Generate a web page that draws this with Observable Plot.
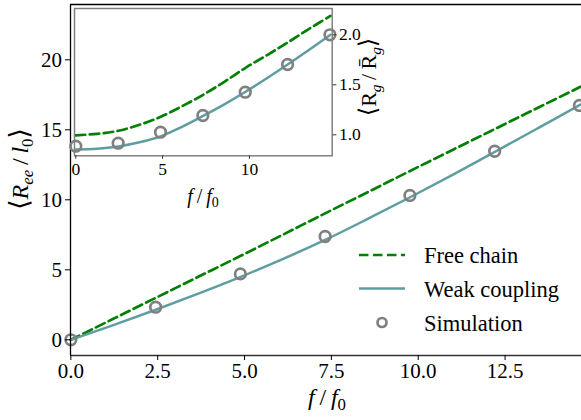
<!DOCTYPE html>
<html>
<head>
<meta charset="utf-8">
<script src="https://cdn.jsdelivr.net/npm/d3@7"></script>
<script src="https://cdn.jsdelivr.net/npm/@observablehq/plot@0.6"></script>
<style>
  html, body { margin: 0; padding: 0; background: white; overflow: hidden; }
  #wrap { position: relative; width: 581px; height: 420px; }
  #wrap svg text { font-family: 'Liberation Serif', 'DejaVu Serif', serif; }
</style>
</head>
<body>
<div id="wrap"></div>
<script>
// ---- data ----
const curveX   = [0, 1.2225, 2.445, 3.6675, 4.89, 6.1125, 7.335, 8.5575, 9.78, 11.0025, 12.225, 13.4475, 14.67];
const freeMain = [0, 1.5, 3.0, 4.5, 6.0, 7.52, 9.05, 10.56, 12.08, 13.58, 15.08, 16.58, 18.07];
const weakMain = [0, 1.05, 2.15, 3.3, 4.5, 5.78, 7.15, 8.65, 10.2, 11.8, 13.45, 15.12, 16.8];
const simX     = [0, 2.44, 4.88, 7.32, 9.76, 12.2, 14.64];
const simMain  = [0, 2.33, 4.71, 7.38, 10.31, 13.47, 16.74];
const freeIn   = [0.995, 1.01, 1.04, 1.1, 1.18, 1.285, 1.40, 1.53, 1.67, 1.795, 1.925, 2.06, 2.19];
const weakIn   = [0.853, 0.86, 0.883, 0.925, 0.985, 1.08, 1.19, 1.305, 1.43, 1.565, 1.705, 1.85, 2.0];
const simIn    = [0.886, 0.916, 1.026, 1.193, 1.426, 1.703, 2.0];
const mainXTicks = [0, 2.5, 5, 7.5, 10, 12.5];
const mainYTicks = [0, 5, 10, 15, 20];
const inXTicks = [0, 5, 10];
const inYTicks = [1.0, 1.5, 2.0];
const legendLabels = ["Free chain", "Weak coupling", "Simulation"];

const GREEN = "#008000", BLUE = "#5f9ea0", GRAY = "#808080";
const FONT = "'Liberation Serif', 'DejaVu Serif', serif";

const freeMainData = curveX.map((x, i) => ({x, y: freeMain[i]}));
const weakMainData = curveX.map((x, i) => ({x, y: weakMain[i]}));
const simMainData  = simX.map((x, i) => ({x, y: simMain[i]}));
const freeInData   = curveX.map((x, i) => ({x, y: freeIn[i]}));
const weakInData   = curveX.map((x, i) => ({x, y: weakIn[i]}));
const simInData    = simX.map((x, i) => ({x, y: simIn[i]}));

const mainXDomain = [-0.01, 14.70];
const mainYDomain = [-1.12, 23.95];

const main = Plot.plot({
  width: 581, height: 420,
  marginLeft: 70, marginRight: 0, marginTop: 4, marginBottom: 65,
  x: {domain: mainXDomain},
  y: {domain: mainYDomain},
  style: "font-family: 'Liberation Serif', serif; font-size: 21px; background: white; color: black;",
  marks: [
    Plot.line(freeMainData, {x: "x", y: "y", stroke: GREEN, strokeWidth: 2.7, strokeDasharray: "9.5,4.5", curve: "catmull-rom"}),
    Plot.line(weakMainData, {x: "x", y: "y", stroke: BLUE, strokeWidth: 2.5, curve: "catmull-rom"}),
    Plot.dot(simMainData, {x: "x", y: "y", r: 5.3, stroke: GRAY, strokeWidth: 2.7, fill: "none"}),
    Plot.ruleX([mainXDomain[0]], {stroke: "black", strokeWidth: 1.3}),
    Plot.ruleY([mainYDomain[0]], {stroke: "#333", strokeWidth: 1.3}),
    Plot.ruleY([mainYDomain[1]], {stroke: "black", strokeWidth: 1.3}),
    Plot.axisX({ticks: mainXTicks, tickFormat: d3.format(".1f"), tickSize: 5, tickPadding: 2.5, label: null, fontSize: 21, fontFamily: FONT}),
    Plot.axisY({ticks: mainYTicks, tickFormat: d3.format("d"), tickSize: 5, tickPadding: 3.5, label: null, fontSize: 21, fontFamily: FONT})
  ]
});

const inXDomain = [-0.075, 14.77];
const inYDomain = [0.79, 2.263];
const inset = Plot.plot({
  width: 400, height: 230,
  marginLeft: 74, marginRight: 68.3, marginTop: 8, marginBottom: 74.7,
  x: {domain: inXDomain},
  y: {domain: inYDomain},
  style: "font-family: 'Liberation Serif', serif; font-size: 17.5px; background: transparent; color: black; position: absolute; left: 0px; top: 0px;",
  marks: [
    Plot.frame({fill: "white", stroke: "none"}),
    Plot.line(freeInData, {x: "x", y: "y", stroke: GREEN, strokeWidth: 2.7, strokeDasharray: "9.5,4.5", curve: "catmull-rom"}),
    Plot.line(weakInData, {x: "x", y: "y", stroke: BLUE, strokeWidth: 2.5, curve: "catmull-rom"}),
    Plot.frame({stroke: GRAY, strokeWidth: 1.5, fill: "none"}),
    Plot.dot(simInData, {x: "x", y: "y", r: 5.3, stroke: GRAY, strokeWidth: 2.7, fill: "none"}),
    Plot.axisX({ticks: inXTicks, tickFormat: d3.format("d"), tickSize: 3.5, tickPadding: 3.5, label: null, fontSize: 17.5, fontFamily: FONT, stroke: "#333"}),
    Plot.axisY({anchor: "right", ticks: inYTicks, tickFormat: d3.format(".1f"), tickSize: 3.7, tickPadding: 3, label: null, fontSize: 17.5, fontFamily: FONT, stroke: "#333"})
  ]
});
inset.style.position = "absolute";
inset.style.left = "0px";
inset.style.top = "0px";
inset.style.background = "transparent";

const wrap = document.getElementById("wrap");
wrap.appendChild(main);
wrap.appendChild(inset);

// math-like label helper; each part: [text, {it, sub, big}]
function mathLabel(svg, x, y, rotate, size, parts) {
  const t = d3.select(svg).append("text")
    .attr("transform", `translate(${x},${y})` + (rotate ? ` rotate(${rotate})` : ""))
    .attr("text-anchor", "middle")
    .attr("font-family", FONT)
    .attr("font-size", size)
    .attr("fill", "black");
  let shifted = 0;
  for (const [txt, o] of parts) {
    const sp = t.append("tspan").text(txt);
    let target = 0;
    if (o.sub) { sp.attr("font-size", size * 0.7); target = size * 0.22; }
    if (o.it) sp.attr("font-style", "italic");
    if (o.big) sp.attr("font-size", size * 1.1).style("font-family", "'DejaVu Serif', serif").attr("font-weight", 300);
    if (target !== shifted) { sp.attr("dy", target - shifted); shifted = target; }
  }
  return t;
}

const sl = "\u2009/\u2009";
mathLabel(main, 327, 405, 0, 24, [["f", {it: 1}], [sl, {}], ["f", {it: 1}], ["0", {sub: 1}]]);
mathLabel(main, 28, 169, -90, 24, [["\u27E8", {big: 1}], ["R", {it: 1}], ["ee", {it: 1, sub: 1}], [sl, {}], ["l", {it: 1}], ["0", {sub: 1}], ["\u27E9", {big: 1}]]);
mathLabel(inset, 203, 203, 0, 20, [["f", {it: 1}], [sl, {}], ["f", {it: 1}], ["0", {sub: 1}]]);
mathLabel(inset, 376, 77, -90, 22, [["\u27E8", {big: 1}], ["R", {}], ["g", {it: 1, sub: 1}], [sl, {}], ["R\u0304", {}], ["g", {it: 1, sub: 1}], ["\u27E9", {big: 1}]]);

// legend
const lg = d3.select(main).append("g").attr("font-family", FONT).attr("font-size", 22.5).attr("text-anchor", "start");
const rows = [255, 288.5, 322.5];
lg.append("line").attr("x1", 359).attr("x2", 405).attr("y1", rows[0]).attr("y2", rows[0])
  .attr("stroke", GREEN).attr("stroke-width", 2.7).attr("stroke-dasharray", "9.5,4.5");
lg.append("line").attr("x1", 359).attr("x2", 405).attr("y1", rows[1]).attr("y2", rows[1])
  .attr("stroke", BLUE).attr("stroke-width", 2.5);
lg.append("circle").attr("cx", 382).attr("cy", rows[2]).attr("r", 4.5)
  .attr("fill", "none").attr("stroke", GRAY).attr("stroke-width", 2.7);
legendLabels.forEach((s, i) => {
  lg.append("text").attr("x", 424).attr("y", rows[i] + 8).attr("text-anchor", "start").attr("fill", "black").text(s);
});
</script>
</body>
</html>
